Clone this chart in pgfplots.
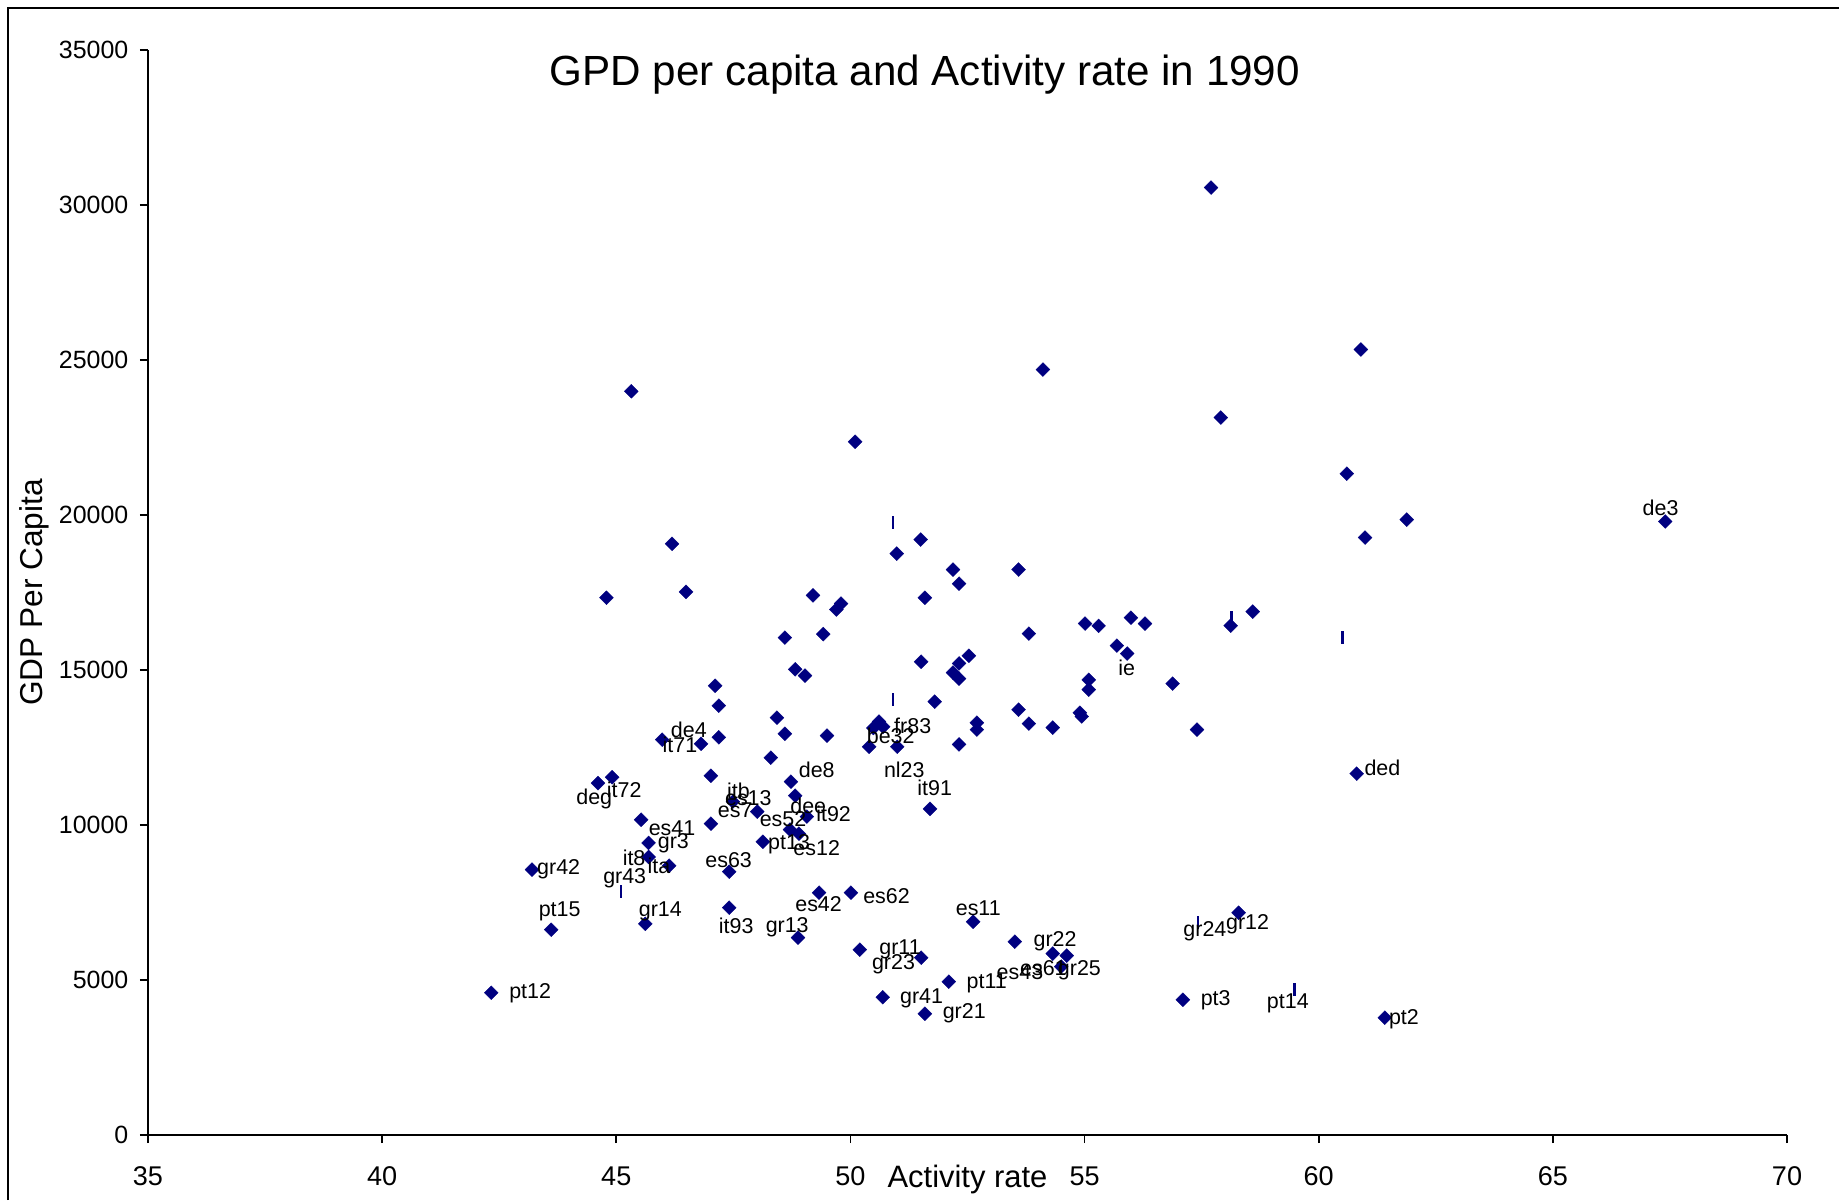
\documentclass[border=0pt]{standalone}
\usepackage{fontspec}
\setmainfont{Liberation Sans}
\usepackage{pgfplots}
\usepackage{pgfplotstable}
\pgfplotsset{compat=1.18}
\definecolor{navy}{RGB}{0,0,128}

\pgfplotstableread{
x y
42.33 4590
43.20 8559
43.61 6622
44.61 11352
44.91 11541
44.79 17331
45.32 23991
45.53 10171
45.69 9422
45.69 8968
46.13 8688
45.62 6811
46.19 19071
46.49 17520
45.98 12752
46.81 12620
47.19 12828
47.19 13849
47.11 14493
49.20 17406
49.80 17142
49.70 16952
49.42 16158
48.60 16044
48.82 15022
49.03 14818
50.99 18754
51.50 19208
52.19 18239
52.32 17785
53.59 18239
51.59 17331
53.81 16173
55.01 16498
55.30 16423
51.51 15268
52.32 15212
52.53 15461
52.19 14917
52.32 14720
48.43 13463
48.60 12942
49.50 12885
51.80 13978
53.59 13721
53.81 13271
54.32 13142
54.90 13620
54.94 13500
55.09 14682
55.09 14368
52.70 13301
52.70 13077
50.61 13335
50.70 13168
50.49 13131
50.40 12525
51.00 12525
52.32 12601
51.70 10520
47.02 11590
48.30 12173
48.73 11397
48.82 10947
49.07 10270
48.01 10432
47.49 10754
47.02 10043
48.13 9460
48.71 9850
48.90 9721
47.41 8495
47.41 7333
48.88 6365
49.33 7818
50.01 7818
50.20 5979
52.62 6879
51.51 5721
53.51 6236
54.32 5850
54.62 5786
54.50 5434
52.10 4946
50.69 4443
51.59 3913
57.10 4363
58.29 7171
61.41 3784
55.99 16687
56.29 16498
55.69 15787
55.91 15530
56.88 14561
57.40 13078
58.12 16430
58.59 16884
60.81 11655
57.70 30563
60.90 25338
57.91 23143
60.60 21334
61.88 19851
60.99 19272
54.11 24691
50.10 22363
67.40 19790
}\maindata

\pgfplotstableread{
x y
50.91 19752
50.91 14040
45.10 7848
57.42 6849
59.49 4688
58.13 16690
60.51 16044
}\dashdata

\pgfplotstableread{
x y label
67.30 20244 de3
55.90 15064 ie
61.36 11840 ded
51.33 13206 fr83
50.86 12881 be32
51.15 11787 nl23
51.80 11201 it91
46.55 13055 de4
46.36 12571 it71
49.28 11765 de8
45.17 11140 it72
44.53 10849 deg
47.61 11117 itb
47.82 10872 es13
47.54 10463 es7
49.10 10603 dee
49.64 10357 it92
48.56 10205 es52
46.19 9903 es41
48.69 9384 pt13
49.28 9260 es12
46.22 9396 gr3
45.38 8945 it8
45.91 8699 ita
47.40 8858 es63
43.77 8560 gr42
45.18 8268 gr43
49.32 7462 es42
50.77 7719 es62
52.73 7303 es11
43.79 7205 pt15
45.94 7205 gr14
47.56 6762 it93
48.65 6698 gr13
51.06 5998 gr11
50.92 5494 gr23
54.37 6244 gr22
53.62 5245 es43
54.12 5388 es61
54.89 5309 gr25
52.91 4904 pt11
51.52 4408 gr41
52.43 3913 gr21
57.80 4340 pt3
57.57 6558 gr24
58.48 6785 gr12
59.34 4257 pt14
61.82 3720 pt2
43.16 4579 pt12
}\labeldata

\begin{document}
\begin{tikzpicture}
\useasboundingbox (0mm,0mm) rectangle (183.9mm,120mm);
\draw[line width=0.6pt] (0.8mm,0mm) -- (0.8mm,119.2mm) -- (183.9mm,119.2mm);
\begin{axis}[
  at={(14.8mm,6.5mm)}, anchor=south west,
  scale only axis, width=163.9mm, height=108.5mm,
  xmin=35, xmax=70, ymin=0, ymax=35000,
  xtick={35,40,...,70}, ytick={0,5000,...,35000},
  scaled y ticks=false, scaled x ticks=false,
  axis x line*=bottom, axis y line*=left,
  axis line style={-, black, line width=0.5pt},
  tick align=outside, major tick length=0.8mm,
  tick style={black, line width=0.5pt},
  /pgf/number format/set thousands separator={},
  /pgf/number format/assume math mode=true,
  xticklabel style={font=\fontsize{7.7}{9}\selectfont, anchor=base, yshift=-4.2mm},
  yticklabel style={font=\fontsize{7.1}{9}\selectfont, anchor=east, inner sep=0pt, xshift=-1.1mm},
  xlabel={Activity rate},
  xlabel style={at={(axis description cs:0.5,0)}, anchor=base, yshift=-5.2mm, font=\fontsize{8.8}{10}\selectfont},
  ylabel={GDP Per Capita},
  ylabel style={at={(axis description cs:0,0.5)}, anchor=center, yshift=11.35mm, font=\fontsize{9}{10}\selectfont},
  title={GPD per capita and Activity rate in 1990},
  title style={at={(axis description cs:0.474,0.958)}, anchor=center, font=\fontsize{12}{14}\selectfont},
  clip=false,
]
\addplot[only marks, mark=square*, mark size=1.4pt, color=navy,
  mark options={rotate=45, fill=navy, draw=navy, line width=0.1pt}] table[x=x, y=y] {\maindata};
\addplot[only marks, mark=|, mark size=0.63mm, color=navy,
  mark options={line width=0.28mm}] table[x=x, y=y] {\dashdata};
\addplot[only marks, mark=none, point meta=explicit symbolic,
  nodes near coords, nodes near coords align=center,
  every node near coord/.append style={anchor=center, inner sep=0pt, text=black, font=\fontsize{6.1}{7}\selectfont}]
  table[x=x, y=y, meta=label] {\labeldata};
\end{axis}
\end{tikzpicture}
\end{document}
